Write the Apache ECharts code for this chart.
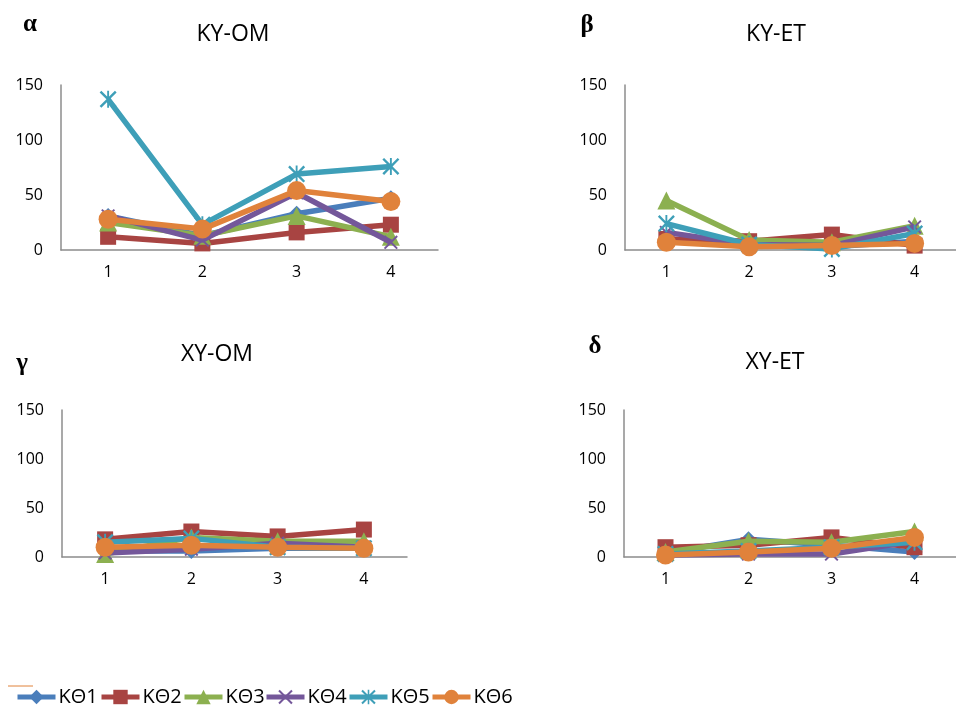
<!DOCTYPE html>
<html>
<head>
<meta charset="utf-8">
<script src="https://cdn.jsdelivr.net/npm/echarts@6/dist/echarts.min.js"></script>
<style>
  html, body { margin: 0; padding: 0; background: #fff; }
  #chart { width: 956px; height: 710px; }
</style>
</head>
<body>
<div id="chart"></div>
<script>
// Categories along every x axis
const categories = ['1', '2', '3', '4'];
const seriesNames = ['KΘ1', 'KΘ2', 'KΘ3', 'KΘ4', 'KΘ5', 'KΘ6'];
const yTicks = [0, 50, 100, 150];

// One row per series (KΘ1..KΘ6), one value per category
const kyOm = [
  [31, 13, 33, 47],
  [12, 6, 16, 23],
  [25, 13, 31, 12],
  [31, 9, 52, 7],
  [137, 23, 69, 76],
  [28, 19, 54, 44]
];
const kyEt = [
  [10, 4, 3, 8],
  [10, 8, 14, 4],
  [45, 9, 7, 22],
  [16, 5, 4, 21],
  [24, 5, 1, 15],
  [7, 3, 4, 6]
];
const xyOm = [
  [6, 6, 9, 9],
  [18, 26, 21, 28],
  [3, 20, 16, 16],
  [4, 8, 14, 10],
  [15, 19, 10, 9],
  [10, 12, 10, 9]
];
const xyEt = [
  [4, 18, 12, 5],
  [10, 12, 20, 10],
  [5, 16, 15, 26],
  [2, 3, 3, 16],
  [3, 6, 10, 15],
  [2, 5, 9, 20]
];

const panelTitles = ['KY-OM', 'KY-ET', 'XY-OM', 'XY-ET'];
const panelLetters = ['α', 'β', 'γ', 'δ'];
const panelData = [kyOm, kyEt, xyOm, xyEt];

// Styling
const colors = ['#4A7EBB', '#A84442', '#8CB050', '#74579A', '#3E9FB8', '#E0823B'];
const xMark = 'path://M1,0 L5,4 L9,0 L10,1 L6,5 L10,9 L9,10 L5,6 L1,10 L0,9 L4,5 L0,1 Z';
const starMark = 'path://M1,0 L5,4 L9,0 L10,1 L6,5 L10,9 L9,10 L5,6 L1,10 L0,9 L4,5 L0,1 Z M4.45,0 L5.55,0 L5.55,10 L4.45,10 Z';
const symbols = ['diamond', 'rect', 'triangle', xMark, starMark, 'circle'];
const symbolSizes = [16, 16, 18, 14, 17, 19];

const grids = [
  { left: 61, top: 85, width: 377, height: 165 },
  { left: 625, top: 85, width: 336, height: 165 },
  { left: 62, top: 410, width: 345, height: 147 },
  { left: 624, top: 410, width: 336, height: 147 }
];

const tickFont = "'Open Sans', 'Liberation Sans', sans-serif";
const axisColor = '#8C8C8C';

const xAxes = grids.map((g, i) => ({
  type: 'category',
  gridIndex: i,
  data: categories,
  boundaryGap: true,
  axisLine: { lineStyle: { color: axisColor, width: 1.5 } },
  axisTick: { show: false },
  axisLabel: { color: '#000', fontSize: 16, fontFamily: tickFont, margin: 14 }
}));

const yAxes = grids.map((g, i) => ({
  type: 'value',
  gridIndex: i,
  min: yTicks[0],
  max: yTicks[yTicks.length - 1],
  interval: yTicks[1] - yTicks[0],
  axisLine: { show: true, lineStyle: { color: axisColor, width: 1.5 } },
  axisTick: { show: false },
  splitLine: { show: false },
  axisLabel: { color: '#000', fontSize: 16, fontFamily: tickFont, margin: 18 }
}));

const series = [];
panelData.forEach((rows, p) => {
  rows.forEach((vals, s) => {
    series.push({
      type: 'line',
      name: seriesNames[s],
      xAxisIndex: p,
      yAxisIndex: p,
      data: vals,
      symbol: symbols[s],
      symbolSize: symbolSizes[s],
      showAllSymbol: true,
      color: colors[s],
      lineStyle: { width: 5.5, color: colors[s] },
      itemStyle: { color: colors[s] },
      z: 2 + s,
      animation: false
    });
  });
});

// Legend entries placed along the bottom
const legendLefts = [15, 99, 182, 264, 347, 430];
const legends = seriesNames.map((n, i) => ({
  data: [n],
  left: legendLefts[i],
  top: 687,
  padding: 0,
  itemWidth: 38,
  itemHeight: 18,
  itemGap: 0,
  selectedMode: false,
  lineStyle: { width: 5 },
  textStyle: { fontSize: 20, color: '#000', fontFamily: "'Liberation Sans Narrow', 'Open Sans', sans-serif", padding: [0, 0, 0, -2] }
}));

const titlePos = [[233, 34], [776, 34], [217, 354], [775, 362]];
const letterPos = [[30, 25], [587, 26], [22, 364], [595, 347]];

const graphics = [];
panelTitles.forEach((t, i) => {
  graphics.push({
    type: 'text',
    x: titlePos[i][0], y: titlePos[i][1],
    style: {
      text: t, fill: '#000', font: "23px 'Open Sans', sans-serif",
      textAlign: 'center', textVerticalAlign: 'middle'
    }
  });
  graphics.push({
    type: 'text',
    x: letterPos[i][0], y: letterPos[i][1],
    style: {
      text: panelLetters[i], fill: '#000', font: "bold 25px 'Liberation Serif', 'DejaVu Serif', serif",
      textAlign: 'center', textVerticalAlign: 'middle'
    }
  });
});
// small orange stroke left of the legend
graphics.push({
  type: 'line',
  shape: { x1: 8, y1: 686, x2: 33, y2: 686 },
  style: { stroke: '#E0823B', lineWidth: 1 }
});

const chart = echarts.init(document.getElementById('chart'), null, { renderer: 'canvas' });
chart.setOption({
  animation: false,
  backgroundColor: '#fff',
  grid: grids,
  xAxis: xAxes,
  yAxis: yAxes,
  legend: legends,
  series: series,
  graphic: graphics
});
</script>
</body>
</html>
